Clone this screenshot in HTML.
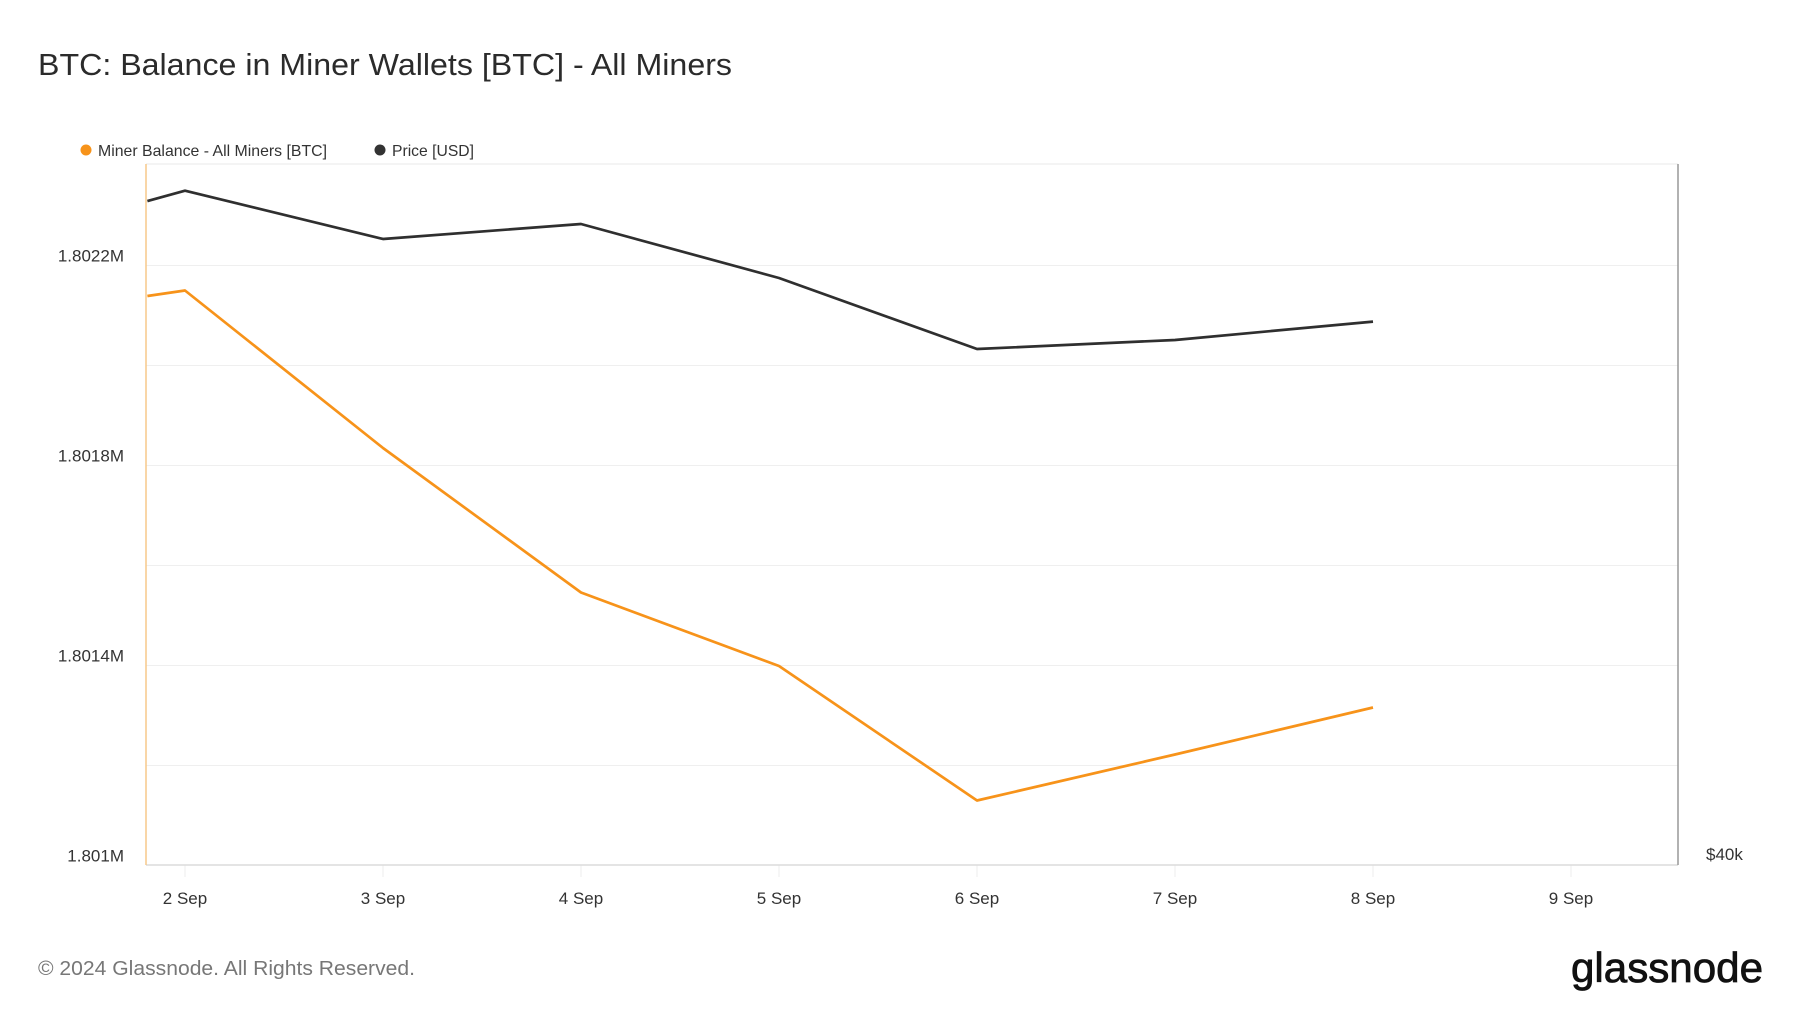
<!DOCTYPE html>
<html><head><meta charset="utf-8"><style>
html,body{margin:0;padding:0;background:#fff;}
svg{display:block;font-family:"Liberation Sans",sans-serif;}
</style></head><body>
<svg id="chart" width="1800" height="1013" viewBox="0 0 1800 1013" xmlns="http://www.w3.org/2000/svg">
<text x="38" y="75" font-size="31" fill="#2b2b2b" textLength="694" lengthAdjust="spacingAndGlyphs">BTC: Balance in Miner Wallets [BTC] - All Miners</text>
<g>
 <g>
  <circle cx="86" cy="150" r="5.5" fill="#f7931a"/>
  <text x="98" y="156" font-size="16" fill="#333" textLength="229" lengthAdjust="spacingAndGlyphs">Miner Balance - All Miners [BTC]</text>
 </g>
 <g>
  <circle cx="380" cy="150" r="5.5" fill="#333"/>
  <text x="392" y="156" font-size="16" fill="#333" textLength="82" lengthAdjust="spacingAndGlyphs">Price [USD]</text>
 </g>
</g>
<g id="grid"></g>
<g id="axes"></g>
<g id="series"></g>
<text x="38" y="975" font-size="20" fill="#777" textLength="377" lengthAdjust="spacingAndGlyphs">© 2024 Glassnode. All Rights Reserved.</text>
<text x="1763" y="982" font-size="42" fill="#111" stroke="#111" stroke-width="0.8" text-anchor="end" textLength="192" lengthAdjust="spacingAndGlyphs">glassnode</text>
</svg>
<script>
const days = [-0.19, 0, 1, 2, 3, 4, 5, 6];
const balance = [1802139, 1802150, 1801835, 1801546, 1801399, 1801130, 1801222, 1801316];
const price = [58824, 59116, 57748, 58173, 56643, 54632, 54887, 55408];
const xTickLabels = ["2 Sep","3 Sep","4 Sep","5 Sep","6 Sep","7 Sep","8 Sep","9 Sep"];
const yTickValues = [1801000, 1801400, 1801800, 1802200];
const yTickLabels = ["1.801M","1.8014M","1.8018M","1.8022M"];
const gridValues = [1801200, 1801400, 1801600, 1801800, 1802000, 1802200];

const L=146, R=1678, T=164, B=865;
const NS="http://www.w3.org/2000/svg";
function x(d){ return 185 + d*198; }
function yL(v){ return 865.5 - (v-1801000)/2; }
function yR(v){ return 865.5 - (v-40000)*0.0353; }
function mk(tag, attrs, parent){ const e=document.createElementNS(NS,tag); for(const k in attrs) e.setAttribute(k,attrs[k]); parent.appendChild(e); return e; }

const grid=document.getElementById('grid'), axes=document.getElementById('axes'), series=document.getElementById('series');
mk('line',{x1:L,x2:R,y1:T,y2:T,stroke:'#eaeaea','stroke-width':1},grid);
gridValues.forEach(v=>{
  const g=mk('line',{x1:L,x2:R,y1:yL(v),y2:yL(v),stroke:'#efefef','stroke-width':1},grid);
  
  
});
yTickValues.forEach((v,i)=>{
  const t=mk('text',{x:124,y:yL(v)-4,'font-size':17,fill:'#333','text-anchor':'end'},axes);
  t.textContent=yTickLabels[i];
  
  
});
xTickLabels.forEach((lab,i)=>{
  const tk=mk('line',{x1:x(i),x2:x(i),y1:B,y2:B+12,stroke:'#ececec','stroke-width':1},axes);
  
  
  const t=mk('text',{x:x(i),y:904,'font-size':17,fill:'#333','text-anchor':'middle'},axes);
  t.textContent=lab;
  
  
});
const bx=mk('line',{x1:L,x2:R,y1:B,y2:B,stroke:'#dcdcdc','stroke-width':1.5},axes);


const la=mk('line',{x1:L,x2:L,y1:T,y2:B,stroke:'#f7c98a','stroke-width':1.5},axes);


const ra=mk('line',{x1:R,x2:R,y1:T,y2:B,stroke:'#999','stroke-width':1.5},axes);


const rl=mk('text',{x:1706,y:860,'font-size':17,fill:'#333'},axes);
rl.textContent='$40k';



const pp=mk('polyline',{points:days.map((d,i)=>x(d)+','+yR(price[i])).join(' '),fill:'none',stroke:'#2f2f2f','stroke-width':2.7,'stroke-linejoin':'round'},series);


const bp=mk('polyline',{points:days.map((d,i)=>x(d)+','+yL(balance[i])).join(' '),fill:'none',stroke:'#f7931a','stroke-width':2.7,'stroke-linejoin':'round'},series);


</script>
</body></html>
